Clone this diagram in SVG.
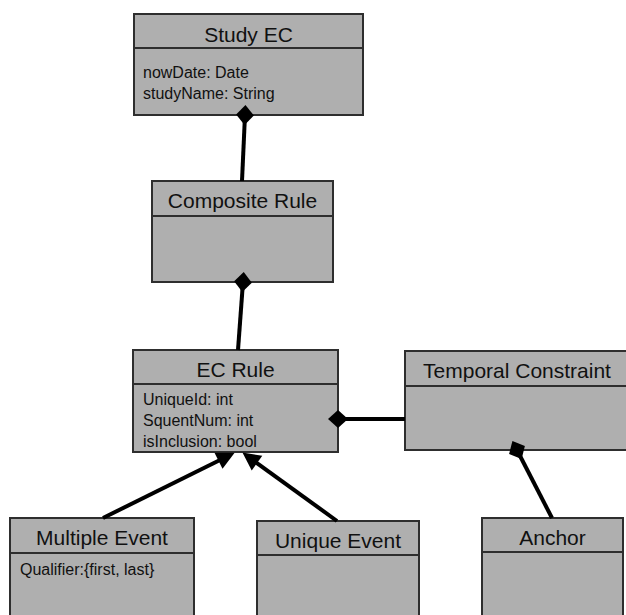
<svg xmlns="http://www.w3.org/2000/svg" width="626" height="615" viewBox="0 0 626 615">
  <style>
    .box { fill: #afafaf; stroke: #2e2e2e; stroke-width: 2; }
    .div { stroke: #2e2e2e; stroke-width: 2; }
    .title { font-family: "Liberation Sans", Arial, sans-serif; font-size: 21px; fill: #111; text-anchor: middle; }
    .attr { font-family: "Liberation Sans", Arial, sans-serif; font-size: 16px; fill: #111; }
    .conn { stroke: #000; stroke-width: 4; fill: none; }
  </style>
  <defs>
    <marker id="diamond" markerUnits="userSpaceOnUse" markerWidth="20" markerHeight="18" viewBox="0 -8 18 16" refX="9" refY="0" orient="auto" overflow="visible">
      <path d="M0,0 L9,-8 L18,0 L9,8 Z" fill="#000"/>
    </marker>
    <marker id="arrow" markerUnits="userSpaceOnUse" markerWidth="18" markerHeight="18" viewBox="0 -8 16 16" refX="10" refY="0" orient="auto" overflow="visible">
      <path d="M0,-8 L16,0 L0,8 Z" fill="#000"/>
    </marker>
  </defs>

  <g id="study-ec">
    <rect class="box" x="134" y="14" width="229" height="101"/>
    <line class="div" x1="134" y1="48" x2="363" y2="48"/>
    <text class="title" x="248.5" y="42">Study EC</text>
    <text class="attr" x="143" y="78">nowDate: Date</text>
    <text class="attr" x="143" y="99">studyName: String</text>
  </g>

  <g id="composite-rule">
    <rect class="box" x="152" y="181" width="181" height="101"/>
    <line class="div" x1="152" y1="216" x2="333" y2="216"/>
    <text class="title" x="242.5" y="208">Composite Rule</text>
  </g>

  <g id="ec-rule">
    <rect class="box" x="133" y="350" width="205" height="102"/>
    <line class="div" x1="133" y1="384" x2="338" y2="384"/>
    <text class="title" x="235.5" y="377">EC Rule</text>
    <text class="attr" x="143" y="405">UniqueId: int</text>
    <text class="attr" x="143" y="426">SquentNum: int</text>
    <text class="attr" x="143" y="447">isInclusion: bool</text>
  </g>

  <g id="temporal-constraint">
    <rect class="box" x="405" y="351" width="224" height="99"/>
    <line class="div" x1="405" y1="386" x2="629" y2="386"/>
    <text class="title" x="517" y="378">Temporal Constraint</text>
  </g>

  <g id="multiple-event">
    <rect class="box" x="10" y="518" width="184" height="104"/>
    <line class="div" x1="10" y1="553" x2="194" y2="553"/>
    <text class="title" x="102" y="545">Multiple Event</text>
    <text class="attr" x="20" y="575">Qualifier:{first, last}</text>
  </g>

  <g id="unique-event">
    <rect class="box" x="257" y="521" width="162" height="104"/>
    <line class="div" x1="257" y1="555" x2="419" y2="555"/>
    <text class="title" x="338" y="548">Unique Event</text>
  </g>

  <g id="anchor">
    <rect class="box" x="482" y="518" width="141" height="104"/>
    <line class="div" x1="482" y1="552" x2="623" y2="552"/>
    <text class="title" x="552.5" y="545">Anchor</text>
  </g>

  <g id="connectors">
    <line class="conn" x1="245" y1="115" x2="242" y2="181" marker-start="url(#diamond)"/>
    <line class="conn" x1="243" y1="282" x2="238" y2="350" marker-start="url(#diamond)"/>
    <line class="conn" x1="338" y1="419" x2="405" y2="419" marker-start="url(#diamond)"/>
    <line class="conn" x1="517" y1="450" x2="552" y2="518" marker-start="url(#diamond)"/>
    <line class="conn" x1="103" y1="518" x2="228.6" y2="455.7" marker-end="url(#arrow)"/>
    <line class="conn" x1="337" y1="521" x2="247.9" y2="456.5" marker-end="url(#arrow)"/>
  </g>
</svg>
